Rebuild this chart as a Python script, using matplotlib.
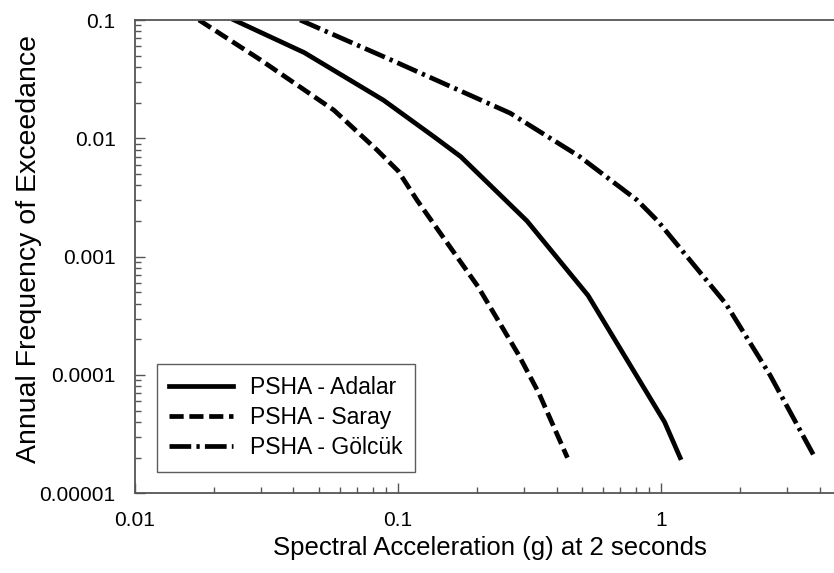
import matplotlib
matplotlib.use("Agg")
import matplotlib.pyplot as plt
from matplotlib.ticker import FixedLocator, FixedFormatter, LogLocator, NullFormatter

plt.rcParams['font.family'] = ['Liberation Sans', 'DejaVu Sans']

# Data
adalar_x = [0.0238, 0.044, 0.088, 0.137, 0.173, 0.309, 0.527, 1.03, 1.18]
adalar_y = [0.1, 0.053, 0.021, 0.0103, 0.007, 0.002, 0.00047, 0.00004, 0.00002]

saray_x = [0.0175, 0.030, 0.057, 0.083, 0.100, 0.118, 0.201, 0.286, 0.343, 0.44]
saray_y = [0.1, 0.046, 0.0173, 0.008, 0.0053, 0.003, 0.00056, 0.00015, 0.00007, 0.00002]

golcuk_x = [0.0424, 0.094, 0.267, 0.49, 0.81, 0.97, 1.76, 2.59, 3.84]
golcuk_y = [0.1, 0.046, 0.0163, 0.007, 0.003, 0.002, 0.0004, 0.0001, 0.00002]

labels = ["PSHA - Adalar", "PSHA - Saray", "PSHA - Gölcük"]

x_ticks = [0.01, 0.1, 1]
x_tick_labels = ["0.01", "0.1", "1"]
y_ticks = [0.1, 0.01, 0.001, 0.0001, 0.00001]
y_tick_labels = ["0.1", "0.01", "0.001", "0.0001", "0.00001"]

fig = plt.figure(figsize=(8.34, 5.73), dpi=100)
ax = fig.add_axes([135/834, (573-493.3)/573, 1 - 135/834, (493.3-20)/573])

lw = 3.4
ax.plot(adalar_x, adalar_y, color='black', lw=lw, linestyle='-', label=labels[0])
ax.plot(saray_x, saray_y, color='black', lw=lw, linestyle=(0, (3.0, 1.2)), label=labels[1])
ax.plot(golcuk_x, golcuk_y, color='black', lw=lw, linestyle=(0, (4.6, 1.1, 0.7, 1.1)), label=labels[2])

ax.set_xscale('log')
ax.set_yscale('log')
ax.set_xlim(0.01, 4.535)
ax.set_ylim(0.00001, 0.1)

ax.xaxis.set_major_locator(FixedLocator(x_ticks))
ax.xaxis.set_major_formatter(FixedFormatter(x_tick_labels))
ax.yaxis.set_major_locator(FixedLocator(y_ticks))
ax.yaxis.set_major_formatter(FixedFormatter(y_tick_labels))
ax.xaxis.set_minor_locator(LogLocator(base=10, subs=range(2, 10), numticks=20))
ax.yaxis.set_minor_locator(LogLocator(base=10, subs=range(2, 10), numticks=20))
ax.xaxis.set_minor_formatter(NullFormatter())
ax.yaxis.set_minor_formatter(NullFormatter())

spine_col = '#555555'
for s in ['left', 'bottom', 'top']:
    ax.spines[s].set_color(spine_col)
    ax.spines[s].set_linewidth(1.3)
ax.spines['right'].set_visible(False)

ax.tick_params(which='both', direction='in', top=False, right=False, colors=spine_col,
               labelcolor='black', labelsize=15)
ax.tick_params(which='major', length=7.5, width=1.0)
ax.tick_params(which='minor', length=4, width=1.0)
ax.tick_params(axis='x', which='major', pad=13)
ax.tick_params(axis='y', which='major', pad=14)

ax.set_xlabel("Spectral Acceleration (g) at 2 seconds", fontsize=18.5)
ax.set_ylabel("Annual Frequency of Exceedance", fontsize=20.5)
ax.xaxis.set_label_coords((490 - 135) / 699, (493.3 - 536) / 473.3)
ax.yaxis.set_label_coords((42 - 135) / 699, 0.516)

leg = ax.legend(loc='lower left', bbox_to_anchor=((156.7-135)/699, (493.3-471.7)/473.3),
                fontsize=16.5, frameon=True, fancybox=False, edgecolor='#333333',
                handlelength=2.8, handletextpad=0.7, borderpad=0.55, labelspacing=0.3,
                borderaxespad=0)
leg.get_frame().set_linewidth(1.0)

fig.savefig("out.png", dpi=100)
